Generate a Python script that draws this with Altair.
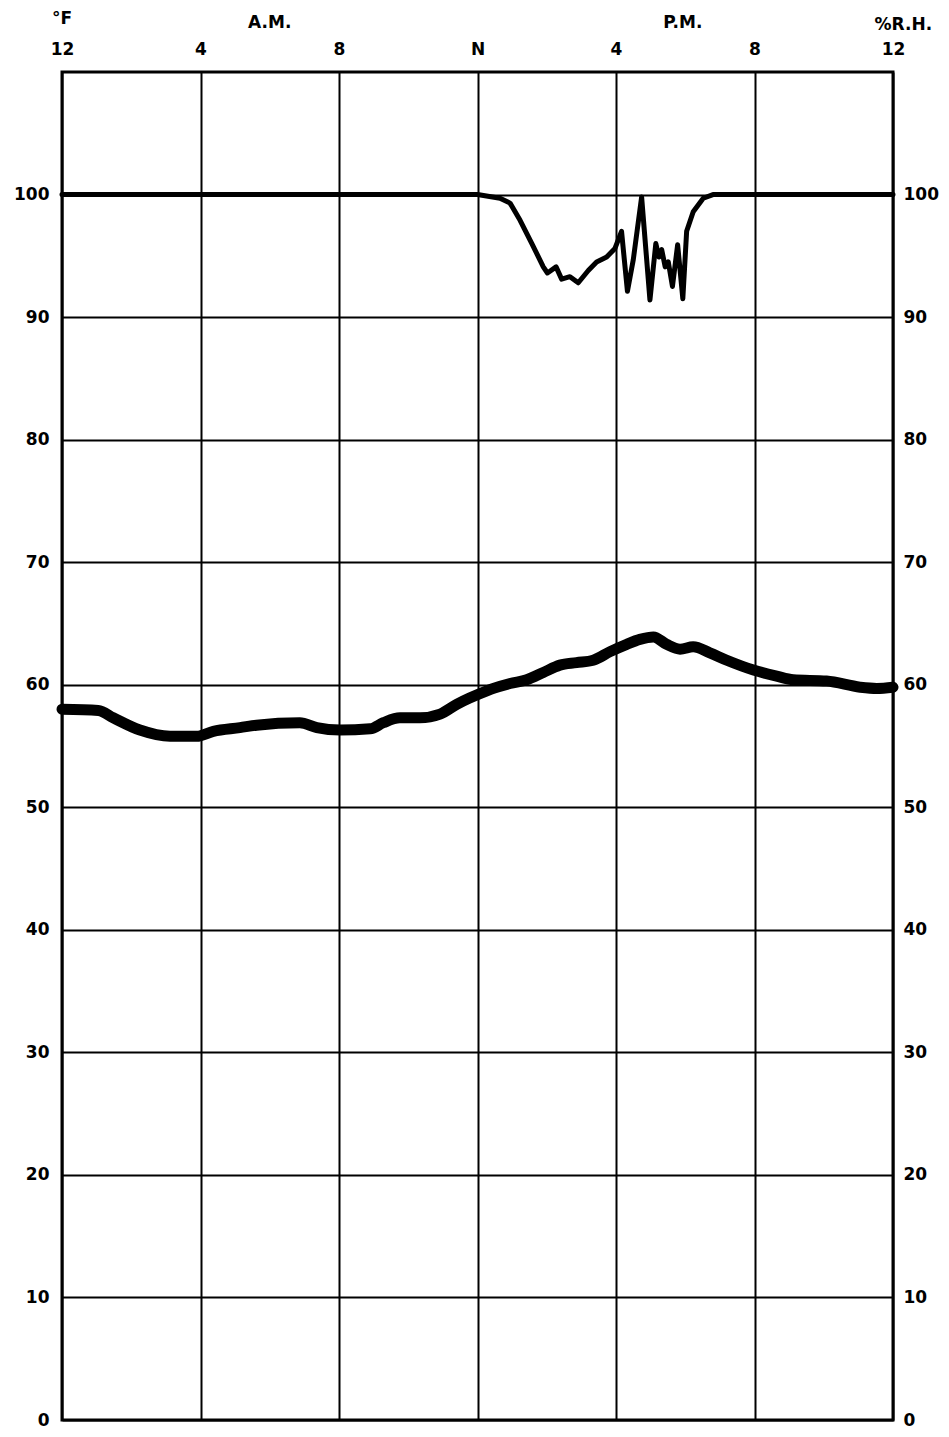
import json
import altair as alt
import pandas as pd

# Temperature (°F) trace
hours_t = [0.0, 1.05, 1.48, 2.25, 3.12, 3.89, 4.37, 5.14, 5.62, 6.87, 7.36, 8.03, 8.90, 9.28,
           9.76, 10.34, 10.92, 11.40, 12.27, 12.46, 12.94, 13.42, 13.90, 14.38, 14.86, 15.34,
           15.83, 16.31, 16.69, 17.08, 17.46, 17.85, 18.23, 18.71, 19.20, 19.97, 20.64, 21.12,
           22.08, 23.05, 23.53, 24.0]
temp_f = [58.0, 57.9, 57.3, 56.3, 55.8, 55.8, 56.2, 56.5, 56.7, 56.9, 56.5, 56.3, 56.4, 56.9,
          57.3, 57.3, 57.6, 58.4, 59.5, 59.7, 60.1, 60.4, 61.0, 61.6, 61.8, 62.0,
          62.7, 63.3, 63.7, 63.9, 63.3, 62.9, 63.1, 62.6, 62.0, 61.2, 60.7, 60.4,
          60.3, 59.8, 59.7, 59.8]

# Relative humidity (%) trace
hours_rh = [0.0, 12.0, 12.65, 12.94, 13.23, 13.57, 13.90, 14.02, 14.27, 14.43, 14.67, 14.91,
            15.20, 15.44, 15.73, 15.97, 16.16, 16.33, 16.50, 16.74, 16.98, 17.15, 17.24, 17.32,
            17.42, 17.51, 17.63, 17.78, 17.93, 18.04, 18.23, 18.52, 18.80, 24.0]
rh_pct = [100.0, 100.0, 99.7, 99.3, 97.9, 96.0, 94.1, 93.6, 94.1, 93.1, 93.3, 92.8,
          93.8, 94.5, 94.9, 95.6, 97.0, 92.1, 94.7, 99.8, 91.4, 96.0, 94.9, 95.5,
          94.1, 94.5, 92.5, 95.9, 91.5, 97.0, 98.6, 99.7, 100.0, 100.0]

x_tick_hours = [0, 4, 8, 12, 16, 20, 24]
x_tick_labels = ["12", "4", "8", "N", "4", "8", "12"]
y_ticks = [0, 10, 20, 30, 40, 50, 60, 70, 80, 90, 100]

header_text = ["°F", "A.M.", "P.M.", "%R.H."]
header_hours = [0.0, 6.0, 17.93, 24.3]
header_level = [114.3, 114.0, 114.0, 113.8]

FONT = "DejaVu Sans"
FS = 17

temp_df = pd.DataFrame({"h": hours_t, "v": temp_f})
rh_df = pd.DataFrame({"h": hours_rh, "v": rh_pct})
hdr_df = pd.DataFrame({"h": header_hours, "v": header_level, "t": header_text})

label_expr = f"{json.dumps(x_tick_labels)}[indexof({json.dumps(x_tick_hours)}, datum.value)]"

xscale = alt.Scale(domain=[0, 24], nice=False, zero=False)
yscale = alt.Scale(domain=[0, 110], nice=False)

x_axis = alt.Axis(orient="top", values=x_tick_hours, labelExpr=label_expr, grid=True,
                  gridColor="black", gridWidth=2, gridOpacity=1, ticks=False, domain=False,
                  title=None, labelFont=FONT, labelFontWeight="bold", labelFontSize=FS,
                  labelColor="black", labelPadding=14, labelFlush=False, labelOverlap=False)

y_axis_left = alt.Axis(orient="left", values=y_ticks, grid=True, gridColor="black",
                       gridWidth=2, gridOpacity=1, ticks=False, domain=False, title=None,
                       labelFont=FONT, labelFontWeight="bold", labelFontSize=FS,
                       labelColor="black", labelPadding=13, labelFlush=False,
                       labelOverlap=False)
y_axis_right = alt.Axis(orient="right", values=y_ticks, grid=False, ticks=False,
                        domain=False, title=None, labelFont=FONT, labelFontWeight="bold",
                        labelFontSize=FS, labelColor="black", labelPadding=10,
                        labelFlush=False, labelOverlap=False)

temp_line = alt.Chart(temp_df).mark_line(
    color="black", strokeWidth=11, strokeCap="round", strokeJoin="round", interpolate="monotone"
).encode(
    x=alt.X("h:Q", scale=xscale, axis=x_axis),
    y=alt.Y("v:Q", scale=yscale, axis=y_axis_left),
)

rh_line = alt.Chart(rh_df).mark_line(
    color="black", strokeWidth=5, strokeCap="round", strokeJoin="round"
).encode(
    x=alt.X("h:Q", scale=xscale),
    y=alt.Y("v:Q", scale=yscale, axis=y_axis_right),
)

header = alt.Chart(hdr_df).mark_text(
    font=FONT, fontWeight="bold", fontSize=FS, color="black", align="center", baseline="middle"
).encode(
    x=alt.X("h:Q", scale=xscale),
    y=alt.Y("v:Q", scale=yscale, axis=None),
    text="t:N",
)

chart = alt.layer(temp_line, rh_line, header).resolve_axis(y="independent").properties(
    width=831, height=1348,
    autosize=alt.AutoSizeParams(type="none"),
    padding={"left": 54, "top": 64, "right": 48, "bottom": 8},
    background="white",
).configure_view(stroke="black", strokeWidth=3)

chart.save("out.html", embed_options={"renderer": "svg", "actions": False})
